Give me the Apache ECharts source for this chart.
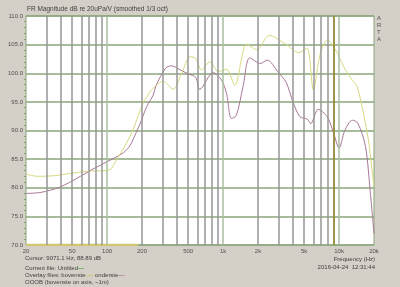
<!DOCTYPE html>
<html>
<head>
<meta charset="utf-8">
<script src="https://cdn.jsdelivr.net/npm/echarts@6/dist/echarts.min.js"></script>
<style>
  html, body { margin: 0; padding: 0; background: #d4d0c8; }
  #chart { width: 400px; height: 287px; }
</style>
</head>
<body>
<div id="chart"></div>
<script>
// bovenste (yellow) overlay
var topFreq = [20, 25, 35, 48, 70, 99, 108, 120, 147, 167, 205, 250, 305, 370, 440, 520, 580, 650, 770, 910, 1070, 1260, 1600, 1950, 2500, 3400, 4500, 5300, 6000, 6900, 7900, 9300, 11000, 13000, 14300, 16200, 18000, 19000, 20000]
var topDb = [82.4, 82.0, 82.1, 82.5, 82.9, 83.0, 83.3, 84.8, 87.8, 90.1, 94.8, 97.4, 98.6, 97.2, 100.0, 102.9, 102.6, 100.6, 102.0, 100.3, 100.7, 97.9, 105.1, 104.1, 106.6, 105.2, 103.6, 104.4, 97.1, 103.5, 105.8, 104.1, 101.1, 98.8, 97.7, 93.0, 88.0, 84.0, 80.2]

// onderste (purple) overlay
var lowFreq = [20, 27, 39, 59, 70, 85, 99, 138, 157, 168, 190, 220, 250, 265, 320, 360, 425, 500, 580, 630, 820, 970, 1070, 1180, 1300, 1490, 1700, 2100, 2400, 2960, 3500, 4000, 4600, 5300, 5700, 6600, 7900, 8900, 10000, 11200, 13000, 14500, 16900, 18500, 20000]
var lowDb = [79.0, 79.2, 80.1, 82.0, 82.9, 83.8, 84.5, 86.1, 87.3, 88.5, 90.9, 94.2, 96.2, 97.9, 100.9, 101.3, 100.6, 99.9, 99.3, 97.2, 100.1, 98.8, 96.5, 92.1, 92.6, 97.8, 102.7, 101.7, 102.3, 100.3, 98.4, 95.0, 92.4, 92.0, 91.2, 93.7, 92.4, 89.8, 86.9, 90.0, 91.8, 91.3, 87.2, 79.6, 72.0]

// yellow bar along the bottom edge
var barFreq = [20, 185]
var barDb = [70, 70]

var gridFreqs = [30, 40, 50, 60, 70, 80, 90, 200, 300, 400, 500, 600, 700, 800, 900, 2000, 3000, 4000, 5000, 6000, 7000, 8000, 9000]
var decadeFreqs = [100, 1000, 10000]
var labelFreqs = [20, 50, 100, 200, 500, 1000, 2000, 5000, 10000, 20000]
var labelText = ['20', '50', '100', '200', '500', '1k', '2k', '5k', '10k', '20k']
var cursorFreq = 9071.1

var font = 'Liberation Sans'
var chart = echarts.init(document.getElementById('chart'))

function pairs(xs, ys) {
  return xs.map(function (x, i) { return [x, ys[i]] })
}

var txt = { font: '6px ' + font, fill: '#404040' }
var dash = function (c) { return { fill: c, font: 'bold 6px ' + font } }

chart.setOption({
  animation: false,
  backgroundColor: '#d4d0c8',
  textStyle: { fontFamily: font },
  grid: {
    left: 26, right: 26, top: 16, bottom: 42,
    show: true,
    backgroundColor: '#ffffff',
    borderColor: '#8aa67a',
    borderWidth: 1
  },
  xAxis: {
    type: 'log',
    logBase: 10,
    min: 20,
    max: 20000,
    axisLine: { show: false },
    axisTick: { show: false },
    axisLabel: { show: false },
    splitLine: { show: false }
  },
  yAxis: {
    type: 'value',
    min: 70,
    max: 110,
    interval: 5,
    axisLine: { show: false },
    axisTick: { show: false },
    minorTick: { show: true, splitNumber: 5, length: 2, lineStyle: { color: '#7fa070' } },
    axisLabel: {
      margin: 3,
      fontSize: 6,
      color: '#505050',
      formatter: function (v) { return v.toFixed(1) }
    },
    splitLine: { lineStyle: { color: '#8aa67a', width: 1.5 } }
  },
  graphic: [
    { type: 'text', left: 27, top: 6, style: Object.assign({ text: 'FR Magnitude dB re 20uPa/V (smoothed 1/3 oct)' }, txt, { font: '6.5px ' + font }) },
    { type: 'text', left: 377, top: 15, style: { text: 'A\nR\nT\nA', font: '6px ' + font, fill: '#505050', lineHeight: 7 } },
    { type: 'text', left: 25, top: 255, style: Object.assign({ text: 'Cursor: 9071.1 Hz, 88.89 dB' }, txt) },
    {
      type: 'text', left: 25, top: 265,
      style: Object.assign({ text: 'Current file: Untitled{g|—}', rich: { g: dash('#40a040') } }, txt)
    },
    {
      type: 'text', left: 25, top: 272,
      style: Object.assign({ text: 'Overlay files: bovenste {y|—} onderste{p|—}', rich: { y: dash('#c8c040'), p: dash('#a06890') } }, txt)
    },
    { type: 'text', left: 25, top: 279, style: Object.assign({ text: 'OOOB (bovenste on axis, ~1m)' }, txt) },
    { type: 'text', right: 25, top: 256, style: Object.assign({ text: 'Frequency (Hz)' }, txt) },
    { type: 'text', right: 25, top: 264, style: Object.assign({ text: '2016-04-24  12:31:44' }, txt) }
  ],
  series: [
    {
      name: 'grid',
      type: 'line',
      data: [],
      silent: true,
      markLine: {
        symbol: 'none',
        silent: true,
        animation: false,
        label: { show: false },
        data: gridFreqs.map(function (f) {
          return { xAxis: f, lineStyle: { color: '#969696', width: 1.5, type: 'solid' } }
        }).concat(decadeFreqs.map(function (f) {
          return { xAxis: f, lineStyle: { color: '#a8bca0', width: 1.5, type: 'solid' } }
        }))
      }
    },
    {
      name: 'labels',
      type: 'line',
      data: [],
      silent: true,
      markLine: {
        symbol: 'none',
        silent: true,
        animation: false,
        lineStyle: { color: 'rgba(0,0,0,0)', width: 0 },
        label: {
          show: true,
          position: 'start',
          distance: 3,
          fontSize: 6,
          fontFamily: font,
          color: '#505050',
          formatter: function (p) { return labelText[labelFreqs.indexOf(p.value)] }
        },
        data: labelFreqs.map(function (f) { return { xAxis: f } })
      }
    },
    {
      name: 'bar',
      type: 'line',
      data: pairs(barFreq, barDb),
      symbol: 'none',
      lineStyle: { color: '#d0c870', width: 2.5 }
    },
    {
      name: 'onderste',
      type: 'line',
      data: pairs(lowFreq, lowDb),
      smooth: 0.3,
      symbol: 'none',
      lineStyle: { color: '#a87898', width: 1 }
    },
    {
      name: 'bovenste',
      type: 'line',
      data: pairs(topFreq, topDb),
      smooth: 0.3,
      symbol: 'none',
      lineStyle: { color: '#d8d880', width: 1 },
      markLine: {
        symbol: 'none',
        silent: true,
        animation: false,
        label: { show: false },
        lineStyle: { color: '#968c28', width: 1.5, type: 'solid' },
        data: [{ xAxis: cursorFreq }]
      }
    }
  ]
})
</script>
</body>
</html>
